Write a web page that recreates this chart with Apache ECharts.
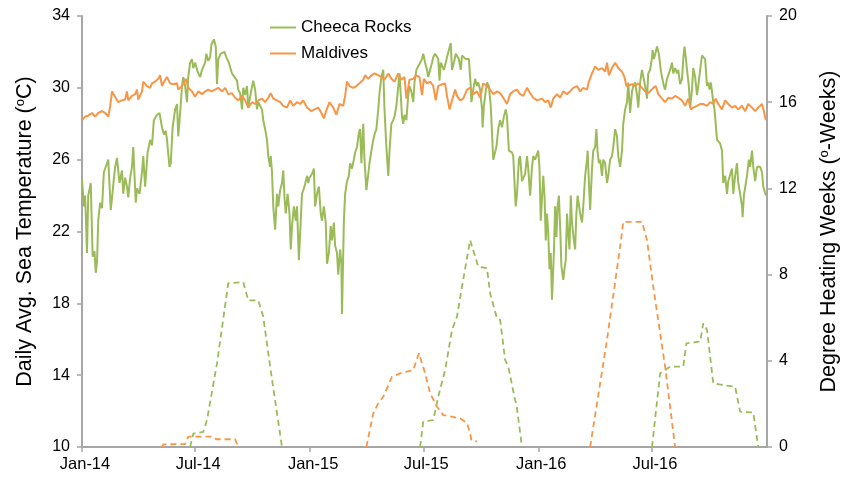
<!DOCTYPE html>
<html>
<head>
<meta charset="utf-8">
<script src="https://cdn.jsdelivr.net/npm/echarts@6/dist/echarts.min.js"></script>
<style>
  html, body { margin: 0; padding: 0; background: #fff; }
  #chart { width: 853px; height: 477px; }
</style>
</head>
<body>
<div id="chart"></div>
<script>
// Day offsets are counted from 1 January 2014.
const cheecaDays = [0,3,5,8,10,14,17,20,22,24,26,29,32,35,40,42,46,49,53,56,60,64,66,69,72,74,77,80,82,86,88,92,96,98,101,105,109,112,115,120,124,128,131,134,136,140,142,145,149,152,154,157,160,162,165,168,170,173,176,178,
  181,185,189,192,197,199,202,205,207,211,214,216,218,222,228,231,235,240,244,248,250,253,256,258,261,264,266,270,274,277,280,282,288,290,293,296,298,301,302,304,306,309,312,314,317,320,322,324,326,329,332,334,336,339,342,344,347,350,352,356,360,
  362,364,368,371,373,376,379,382,384,387,390,392,395,398,400,403,405,408,410,413,415,416,419,421,424,427,429,432,435,437,440,443,445,447,450,452,455,458,460,463,466,468,471,474,476,479,482,484,487,490,492,495,498,500,503,506,508,510,512,514,516,519,522,524,527,530,532,535,538,
  541,544,546,549,552,554,557,560,562,565,568,570,572,574,576,579,582,584,587,590,592,595,598,600,603,606,608,611,614,616,619,621,622,623,626,629,632,634,637,640,641,643,646,648,651,654,656,658,660,663,666,669,672,675,678,680,683,685,688,690,693,694,696,699,701,704,706,709,712,714,717,720,722,
  725,730,732,734,736,738,740,742,744,746,748,750,752,755,757,759,761,763,765,767,770,772,774,776,778,780,782,784,787,789,791,793,795,797,800,802,805,808,809,811,813,816,818,821,823,825,827,829,832,834,837,840,842,845,848,850,853,856,858,861,864,866,869,872,874,877,880,882,885,888,890,893,896,898,901,904,906,
  909,912,913,915,918,920,923,926,928,931,933,936,938,941,944,946,949,952,954,957,960,962,964,966,968,971,973,976,978,981,984,986,989,992,994,997,1000,1002,1004,1006,1008,1010,1012,1016,1018,1021,1024,1026,1029,1032,1034,1037,1040,1042,1045,1048,1050,1053,1056,1057,1059,1062,1064,1067,1069,1072,1074,1077,1080,1082,1085,1088,1090,1093,1094];
const cheecaTemp = [24.9,23.4,24.0,20.8,24.0,24.7,20.6,20.9,19.7,20.3,22.6,23.6,23.3,25.3,25.8,26.0,23.2,23.3,25.6,26.1,24.7,25.4,24.1,25.0,24.5,23.9,25.0,25.6,26.7,23.6,24.4,24.1,25.3,26.2,24.5,26.4,27.1,26.8,28.2,28.5,28.6,27.8,27.4,27.6,27.1,25.6,25.8,27.8,28.8,29.1,27.3,28.6,30.1,30.6,30.1,29.2,30.6,31.4,31.6,31.1,
  31.4,30.9,30.6,31.0,31.4,31.9,31.5,31.7,32.4,32.7,32.3,30.2,31.6,31.9,32.0,31.7,31.4,30.8,30.6,30.4,29.9,29.7,28.8,30.0,29.6,30.1,28.9,29.7,30.4,29.9,28.8,29.2,28.8,28.2,27.7,27.1,26.2,25.6,26.2,25.3,23.4,22.1,24.1,23.4,24.3,24.7,25.4,23.9,23.0,24.1,23.0,21.0,22.3,23.4,22.6,23.4,20.4,22.6,24.1,24.5,25.1,
  24.7,25.0,25.2,25.5,23.4,24.1,24.5,23.0,22.6,23.4,22.5,20.2,20.8,22.3,21.5,22.5,21.2,20.8,19.6,21.0,20.2,17.4,22.6,24.1,24.8,25.1,25.8,25.5,26.0,26.4,26.7,27.5,27.7,25.8,28.0,26.0,24.3,25.2,25.8,26.5,27.1,27.4,27.7,28.8,29.7,30.6,31.0,28.8,26.7,25.1,26.5,28.0,28.2,28.4,29.0,30.1,30.8,29.6,28.4,28.0,28.5,28.2,29.6,30.1,29.8,29.2,30.3,31.0,31.2,
  31.2,31.6,31.9,31.4,31.0,30.6,31.0,31.4,31.7,31.9,32.0,31.6,30.4,31.4,31.4,31.0,31.4,31.7,32.1,32.5,31.0,31.4,31.9,32.0,31.6,31.0,31.8,31.9,31.6,31.5,31.6,31.7,30.1,29.2,29.9,30.5,30.1,30.3,29.9,28.8,27.8,29.0,29.8,30.3,30.1,29.0,27.5,26.0,26.0,26.7,27.7,28.2,27.8,28.4,28.8,28.4,26.5,26.5,26.4,26.2,24.0,23.4,24.1,26.0,26.2,24.8,24.7,25.2,26.2,25.5,24.0,25.6,26.2,
  26.0,26.5,25.5,22.6,22.5,25.1,24.0,21.5,23.0,21.9,19.9,20.8,18.2,20.8,23.4,21.7,23.4,24.0,22.3,20.1,19.3,19.9,20.4,23.0,21.9,21.0,24.0,22.5,21.5,21.0,23.0,24.0,24.1,23.0,22.5,23.4,25.1,26.0,26.5,24.8,23.2,25.5,26.5,26.7,27.7,26.4,25.8,26.0,25.1,26.0,25.8,24.7,25.1,26.0,26.2,26.7,27.7,27.3,26.2,25.6,26.5,28.0,28.8,29.2,30.3,28.6,29.8,30.1,30.3,29.6,28.9,30.3,31.0,31.1,30.1,29.4,30.8,
  31.0,31.7,32.1,31.6,32.0,32.3,31.9,31.0,30.6,30.1,29.9,30.5,30.6,31.0,31.4,30.8,31.1,30.8,31.0,30.2,30.5,31.6,32.3,31.7,31.0,30.1,28.9,29.9,31.1,30.6,29.6,30.1,31.0,31.8,31.7,31.6,30.1,30.3,29.9,30.3,29.8,29.2,28.8,27.1,27.1,26.9,26.5,24.7,25.1,24.1,24.8,24.7,25.5,24.1,25.1,25.8,24.7,24.1,23.4,22.8,24.0,24.0,25.1,26.0,25.6,26.5,25.6,24.8,25.6,25.5,25.6,25.3,24.5,24.4,24.0];

const maldivesDays = [0,5,10,16,21,26,32,37,42,45,48,50,53,58,64,69,72,74,80,85,88,90,96,98,104,109,112,117,122,125,128,133,136,141,146,152,154,160,166,170,176,181,
  186,192,197,202,207,213,218,224,229,234,240,245,250,256,261,266,272,277,282,288,293,298,302,306,312,317,322,328,333,338,344,349,354,360,
  367,372,378,383,387,391,396,402,407,412,418,421,424,428,434,439,444,450,453,458,463,468,474,479,484,490,495,500,506,511,516,519,524,530,535,540,
  544,547,552,557,562,566,570,576,581,584,588,592,597,600,605,610,616,621,626,632,637,642,648,653,658,664,669,674,680,685,690,696,701,706,712,717,722,728,
  736,741,746,750,754,760,765,770,776,781,786,792,797,802,808,811,816,821,826,832,837,840,843,848,853,858,864,868,871,874,880,885,890,896,901,906,
  914,918,922,928,933,938,944,949,954,960,965,970,974,978,984,989,994,1000,1005,1010,1014,1018,1024,1029,1034,1040,1045,1050,1056,1061,1066,1072,1077,1082,1088,1091,1094];
const maldivesTemp = [28.2,28.4,28.45,28.6,28.4,28.6,28.7,28.6,28.4,28.95,29.8,29.8,29.5,29.2,29.3,29.35,29.8,29.3,29.55,29.65,29.9,29.35,29.8,30.35,30.1,30.0,30.25,30.35,30.5,30.7,30.1,30.45,30.6,30.25,30.2,30.25,29.9,30.1,30.5,30.0,29.8,29.5,
  29.8,29.65,29.8,29.9,29.8,29.9,30.0,29.8,30.0,29.65,29.7,29.45,29.3,29.55,29.3,28.9,29.2,29.1,29.3,29.4,29.2,29.45,29.7,29.4,29.3,29.2,29.0,28.9,29.3,29.0,29.2,29.1,29.3,28.9,
  28.7,28.8,28.9,28.6,28.3,28.75,29.2,28.9,28.5,29.1,29.0,29.55,30.35,30.1,30.0,30.1,30.25,30.45,30.7,30.5,30.7,30.8,30.7,30.6,30.45,30.8,30.5,30.35,30.8,30.45,30.6,29.4,30.45,30.5,30.7,30.6,
  29.6,30.5,30.25,30.35,30.1,29.3,30.1,30.2,30.25,29.55,28.8,29.3,29.9,29.55,29.3,29.4,29.9,30.0,29.65,29.8,29.45,30.25,30.1,29.9,29.65,29.8,29.7,29.45,29.1,29.65,29.8,29.9,29.65,29.55,30.0,29.7,29.45,29.3,
  29.4,29.2,29.3,28.9,29.4,29.65,29.45,29.8,29.65,29.8,30.0,30.1,29.8,30.0,29.9,30.35,30.8,31.2,31.0,31.1,30.9,31.4,30.7,31.1,31.4,31.1,30.9,30.6,30.1,30.0,30.2,30.1,30.25,30.0,29.8,29.7,
  30.0,30.1,29.65,29.4,29.2,29.45,29.4,29.55,29.45,29.3,29.0,29.4,28.8,28.9,29.0,29.1,29.1,29.0,29.2,29.1,29.4,29.1,28.8,29.3,29.1,28.9,29.0,28.8,29.0,28.7,29.1,28.9,28.7,28.9,29.1,28.7,28.2];

// Degree heating weeks; null separates the bleaching-stress events.
const cheecaDhwDays = [173,178,179,194,200,216,234,258,266,282,290,301,320, null, 541,546,562,570,581,592,600,608,621,634,648,653,664,669,677,682,693,695,704, null, 912,925,933,941,962,967,989,994,1000,1010,1024,1045,1053,1074,1082];
const cheecaDhw = [0,0.62,0.7,0.7,1.25,3.88,7.6,7.65,6.8,6.8,6.05,3.73,0, null, 0,1.18,1.25,2.33,3.57,5.43,6.05,7.44,9.6,8.37,8.3,7.13,5.97,5.9,4.04,3.73,2.18,2.0,0, null, 0,3.42,3.57,3.73,3.73,4.81,4.89,5.74,5.43,2.96,2.88,2.8,1.64,1.6,0];
const maldivesDhwDays = [128,130,165,170,210,215,245,250, null, 455,466,474,482,496,509,530,539,549,557,568,578,605,616,621,623,632, null, 813,840,861,866,896,904,914,933,949];
const maldivesDhw = [0,0.12,0.14,0.48,0.48,0.36,0.36,0, null, 0,1.56,2.03,2.33,3.26,3.42,3.57,4.35,3.42,2.49,1.87,1.48,1.33,1.1,0.64,0.32,0.25, null, 0,4.97,9.3,10.45,10.45,9.6,7.44,3.73,0];

const tempTicks = [10, 14, 18, 22, 26, 30, 34];
const dhwTicks = [0, 4, 8, 12, 16, 20];
const monthTicks = [[2014, 0], [2014, 6], [2015, 0], [2015, 6], [2016, 0], [2016, 6]];
const monthNames = ['Jan', 'Feb', 'Mar', 'Apr', 'May', 'Jun', 'Jul', 'Aug', 'Sep', 'Oct', 'Nov', 'Dec'];

const DAY = 86400000;
const T0 = Date.UTC(2014, 0, 1);
const T1 = Date.UTC(2017, 0, 1);

function pairs(days, values) {
  return days.map((d, i) => d === null ? [null, null] : [T0 + d * DAY, values[i]]);
}

const tickStamps = monthTicks.map(([y, m]) => Date.UTC(y, m, 1));

const GREEN = '#9BBB59';
const ORANGE = '#F79646';
const AXIS = '#A6A6A6';
const FONT = 'Liberation Sans, Arial, sans-serif';

const chart = echarts.init(document.getElementById('chart'), null, { renderer: 'canvas' });

const supRich = { sup: { fontFamily: FONT, fontSize: 13, color: '#000', verticalAlign: 'top', padding: [0, 0, 8, 0] } };

chart.setOption({
  animation: false,
  backgroundColor: '#ffffff',
  textStyle: { fontFamily: FONT, color: '#000' },
  grid: { left: 82, right: 86, top: 16, bottom: 30, containLabel: false },
  legend: {
    orient: 'vertical',
    left: 265,
    top: 14,
    itemGap: 9,
    itemWidth: 26,
    itemHeight: 2,
    icon: 'rect',
    data: ['Cheeca Rocks', 'Maldives'],
    textStyle: { fontFamily: FONT, fontSize: 17, color: '#000' }
  },
  xAxis: {
    type: 'value',
    min: T0,
    max: T1,
    axisLine: { show: true, lineStyle: { color: AXIS, width: 2 } },
    axisTick: { show: true, length: 5, lineStyle: { color: AXIS, width: 1.5 }, customValues: tickStamps },
    splitLine: { show: false },
    axisLabel: {
      customValues: tickStamps,
      fontFamily: FONT,
      fontSize: 16.5,
      color: '#000',
      margin: 9,
      padding: [0, 0, 0, 6],
      formatter: v => {
        const d = new Date(v);
        return monthNames[d.getUTCMonth()] + '-' + String(d.getUTCFullYear()).slice(2);
      }
    }
  },
  yAxis: [
    {
      type: 'value',
      min: tempTicks[0],
      max: tempTicks[tempTicks.length - 1],
      interval: 4,
      position: 'left',
      name: 'Daily Avg. Sea Temperature ({sup|o}C)',
      nameLocation: 'middle',
      nameRotate: 90,
      nameGap: 46,
      nameTextStyle: { fontFamily: FONT, fontSize: 21.5, color: '#000', rich: supRich },
      axisLine: { show: true, lineStyle: { color: AXIS, width: 2 } },
      axisTick: { show: true, length: 5, lineStyle: { color: AXIS, width: 1.5 } },
      splitLine: { show: false },
      axisLabel: { fontFamily: FONT, fontSize: 16, color: '#000', margin: 12 }
    },
    {
      type: 'value',
      min: dhwTicks[0],
      max: dhwTicks[dhwTicks.length - 1],
      interval: 4,
      position: 'right',
      name: 'Degree Heating Weeks ({sup|o}-Weeks)',
      nameLocation: 'middle',
      nameRotate: 90,
      nameGap: 51,
      nameTextStyle: { fontFamily: FONT, fontSize: 21.5, color: '#000', rich: supRich },
      axisLine: { show: true, lineStyle: { color: AXIS, width: 2 } },
      axisTick: { show: true, length: 5, lineStyle: { color: AXIS, width: 1.5 } },
      splitLine: { show: false },
      axisLabel: { fontFamily: FONT, fontSize: 16, color: '#000', margin: 12 }
    }
  ],
  series: [
    {
      name: 'Cheeca Rocks',
      type: 'line',
      yAxisIndex: 0,
      data: pairs(cheecaDays, cheecaTemp),
      showSymbol: false,
      symbol: 'none',
      color: GREEN,
      lineStyle: { color: GREEN, width: 2 },
      z: 3
    },
    {
      name: 'Maldives',
      type: 'line',
      yAxisIndex: 0,
      data: pairs(maldivesDays, maldivesTemp),
      showSymbol: false,
      symbol: 'none',
      color: ORANGE,
      lineStyle: { color: ORANGE, width: 2 },
      z: 4
    },
    {
      name: 'Cheeca Rocks DHW',
      type: 'line',
      yAxisIndex: 1,
      data: pairs(cheecaDhwDays, cheecaDhw),
      showSymbol: false,
      symbol: 'none',
      connectNulls: false,
      lineStyle: { color: GREEN, width: 1.8, type: [6, 4] },
      z: 2
    },
    {
      name: 'Maldives DHW',
      type: 'line',
      yAxisIndex: 1,
      data: pairs(maldivesDhwDays, maldivesDhw),
      showSymbol: false,
      symbol: 'none',
      connectNulls: false,
      lineStyle: { color: ORANGE, width: 1.8, type: [6, 4] },
      z: 2
    }
  ]
});
</script>
</body>
</html>
